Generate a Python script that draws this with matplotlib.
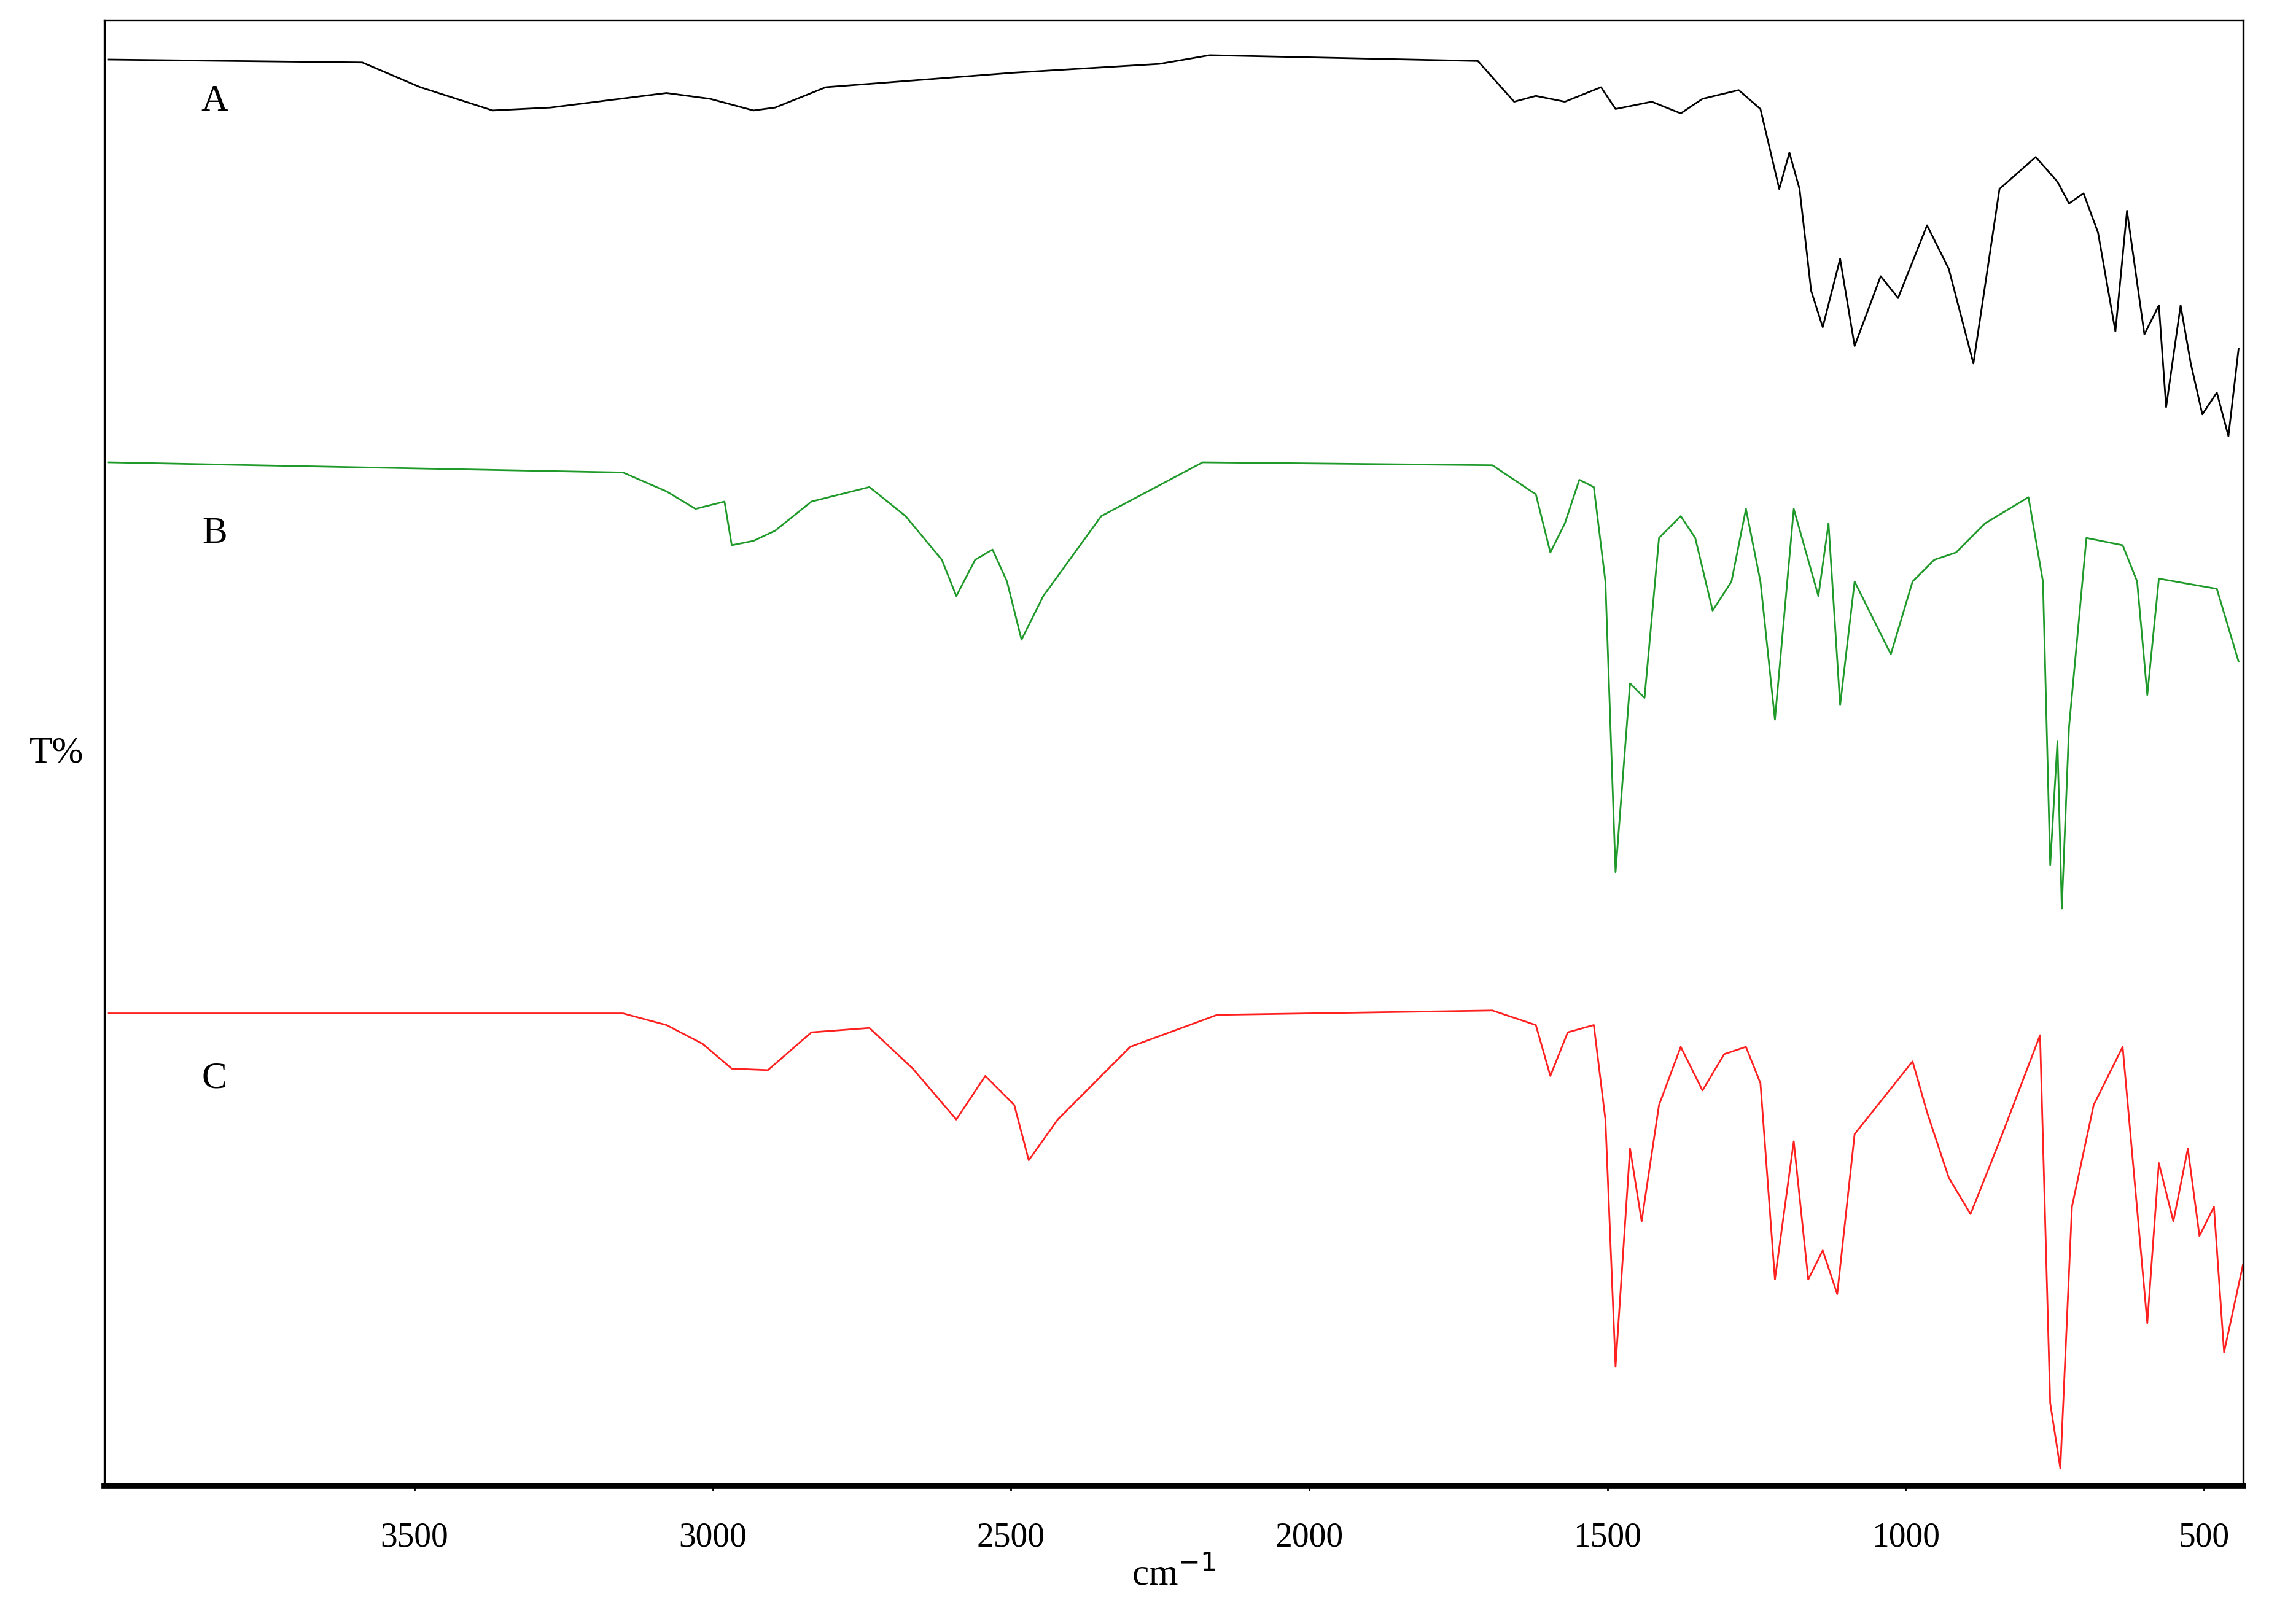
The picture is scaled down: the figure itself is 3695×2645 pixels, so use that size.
import matplotlib
matplotlib.use("Agg")
import matplotlib.pyplot as plt

# pixel-x of the reference -> wavenumber
def wn(px):
    return 3500 - (px - 286) * 2.429

# spectra: (reference x, reference y) key points, y measured down from the top
a_px = [75, 250, 290, 340, 380, 460, 490, 520, 535, 570, 700, 800, 835, 1020, 1045, 1060,
        1080, 1105, 1115, 1140, 1160, 1175, 1200, 1215, 1228, 1235, 1242, 1250, 1258, 1270,
        1280, 1298, 1310, 1330, 1345, 1362, 1380, 1405, 1420, 1428, 1438, 1448, 1460, 1468,
        1480, 1490, 1495, 1505, 1512, 1520, 1530, 1538, 1545]
a_y = [41, 43, 60, 76, 74, 64, 68, 76, 74, 60, 50, 44, 38, 42, 70, 66,
       70, 60, 75, 70, 78, 68, 62, 75, 130, 105, 130, 200, 225, 178,
       238, 190, 205, 155, 185, 250, 130, 108, 125, 140, 133, 160, 228, 145,
       230, 210, 280, 210, 250, 285, 270, 300, 240]

b_px = [75, 430, 460, 480, 500, 505, 520, 535, 560, 600, 625, 650, 660, 673, 685, 695, 705,
        720, 760, 830, 1030, 1060, 1070, 1080, 1090, 1100, 1108, 1115, 1125, 1135, 1145,
        1160, 1170, 1182, 1195, 1205, 1215, 1225, 1238, 1255, 1262, 1270, 1280, 1295, 1305,
        1320, 1335, 1350, 1370, 1400, 1410, 1415, 1420, 1423, 1428, 1440, 1465, 1475, 1482,
        1490, 1530, 1545]
b_y = [318, 325, 338, 350, 345, 375, 372, 365, 345, 335, 355, 385, 410, 385, 378, 400, 440,
       410, 355, 318, 320, 340, 380, 360, 330, 335, 400, 600, 470, 480, 370,
       355, 370, 420, 400, 350, 400, 495, 350, 410, 360, 485, 400, 430, 450,
       400, 385, 380, 360, 342, 400, 595, 510, 625, 500, 370, 375, 400, 478,
       398, 405, 455]

c_px = [75, 430, 460, 485, 505, 530, 560, 600, 630, 660, 680, 700, 710, 730, 780, 840, 1030,
        1060, 1070, 1082, 1100, 1108, 1115, 1125, 1133, 1145, 1160, 1175, 1190, 1205, 1215,
        1225, 1238, 1248, 1258, 1268, 1280, 1300, 1320, 1330, 1345, 1360, 1380, 1408, 1415,
        1422, 1430, 1445, 1465, 1482, 1490, 1500, 1510, 1518, 1528, 1535, 1548]
c_y = [697, 697, 705, 718, 735, 736, 710, 707, 735, 770, 740, 760, 798, 770, 720, 698, 695,
       705, 740, 710, 705, 770, 940, 790, 840, 760, 720, 750, 725, 720, 745,
       880, 785, 880, 860, 890, 780, 755, 730, 765, 810, 835, 785, 712, 965,
       1010, 830, 760, 720, 910, 800, 840, 790, 850, 830, 930, 870]

labels = ["A", "B", "C"]
label_y = [70, 367, 742]
colors = ["black", "#1f9a2a", "#ff2020"]

plt.rcParams["font.family"] = ["Liberation Serif", "DejaVu Serif"]

fig = plt.figure(figsize=(18.475, 13.225), dpi=200)
ax = fig.add_axes([0.046, 0.085, 0.9425, 0.9025])

for px, y, col in zip([a_px, b_px, c_px], [a_y, b_y, c_y], colors):
    ax.plot([wn(p) for p in px], y, color=col, lw=1.0)

for lab, ly in zip(labels, label_y):
    ax.text(wn(148), ly, lab, fontsize=22, va="center", ha="center")

ax.set_xlim(wn(72), wn(1548))
ax.set_ylim(1022, 14)
ax.set_xticks([3500, 3000, 2500, 2000, 1500, 1000, 500])
ax.tick_params(axis="x", which="major", direction="out", length=3, width=1,
               labelsize=20, pad=18)
ax.set_yticks([])
for s in ax.spines.values():
    s.set_linewidth(1.2)
ax.spines["bottom"].set_linewidth(3.5)
ax.set_xlabel("cm$^{-1}$", fontsize=22, labelpad=2)
ax.set_ylabel("T%", fontsize=22, rotation=0, labelpad=28, va="center")

fig.savefig("out.png")
